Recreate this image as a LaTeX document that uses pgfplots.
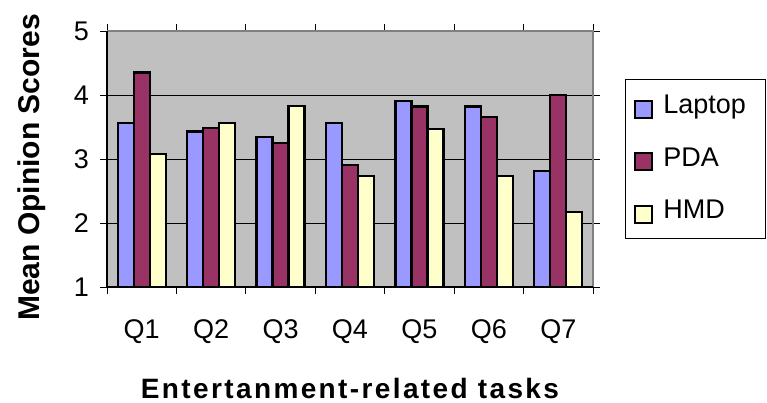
\documentclass[border=0pt]{standalone}
\usepackage{pgfplots}
\pgfplotsset{compat=1.18}
\usepackage{fontspec}
\setmainfont{Liberation Sans}
\newfontfamily\spacedbold[LetterSpace=8.5]{Liberation Sans Bold}

\definecolor{laptopc}{HTML}{9999FF}
\definecolor{pdac}{HTML}{993366}
\definecolor{hmdc}{HTML}{FFFFCC}
\definecolor{plotbg}{HTML}{C0C0C0}
\definecolor{framegray}{HTML}{808080}

\begin{document}
\begin{tikzpicture}[x=1pt,y=1pt]
\begin{axis}[
  scale only axis, width=486pt, height=256pt,
  ybar=0pt, bar width=16pt,
  xmin=-0.5, xmax=6.5, ymin=1, ymax=5,
  xtick={0,...,6},
  xticklabels={Q1,Q2,Q3,Q4,Q5,Q6,Q7},
  major x tick style={draw=none},
  minor xtick={-0.5,0.5,...,6.5},
  ytick={1,...,5},
  tick align=outside,
  major tick length=7pt, minor tick length=7pt,
  tick style={black, line width=0.9pt},
  /pgf/number format/assume math mode=true,
  tick label style={font=\fontsize{27}{27}\selectfont},
  yticklabel style={anchor=east, inner sep=0pt, xshift=-11pt},
  xticklabel style={anchor=north, inner sep=0pt, yshift=-25pt},
  axis line style={draw=none},
  axis background/.style={fill=plotbg},
  ymajorgrids, grid style={black, line width=0.8pt},
  xlabel={\spacedbold\fontsize{28}{28}\selectfont Entertanment-related tasks},
  xlabel style={at={([yshift=-111pt]axis description cs:0.5,0)}, anchor=base},
  ylabel={\bfseries\fontsize{30}{30}\selectfont Mean Opinion Scores},
  ylabel style={at={([xshift=-67pt]axis description cs:0,0.467)}, anchor=base},
  legend style={at={(axis description cs:1.0658,0.8125)}, anchor=north west,
    name=legbox, draw=none, inner xsep=9pt, inner ysep=14.5pt,
    font=\fontsize{27}{27}\selectfont, row sep=27.5pt,
    nodes={inner sep=0pt, text height=20pt, text depth=5pt}},
  legend cell align=left,
  legend image code/.code={%
    \draw[#1, line width=2pt] (1pt,-11.5pt) rectangle (18pt,5.5pt);
    \path (28pt,0pt);},
  every axis plot/.append style={draw=black, line width=2.2pt},
]
\addplot[fill=laptopc] coordinates
  {(0,3.56) (1,3.43) (2,3.34) (3,3.56) (4,3.91) (5,3.82) (6,2.81)};
\addplot[fill=pdac] coordinates
  {(0,4.35) (1,3.48) (2,3.25) (3,2.91) (4,3.82) (5,3.65) (6,4.00)};
\addplot[fill=hmdc] coordinates
  {(0,3.08) (1,3.56) (2,3.83) (3,2.73) (4,3.47) (5,2.74) (6,2.17)};
\legend{Laptop,PDA,HMD}
\coordinate (ll) at (rel axis cs:0,0);
\coordinate (ul) at (rel axis cs:0,1);
\coordinate (ur) at (rel axis cs:1,1);
\coordinate (lr) at (rel axis cs:1,0);
\end{axis}
% plot frame: grey on top and right, black axis lines on left and bottom
\draw[framegray, line width=1.3pt] (ul) -- (ur) -- (lr);
\draw[black, line width=1.2pt] (ul) -- (ll) -- (lr);
% legend frame, with extra room right of the entries
\draw[black, line width=0.8pt] (legbox.north west) rectangle ([xshift=10pt]legbox.south east);
% page area around the plot
\pgfresetboundingbox
\path[use as bounding box] ([shift={(-107pt,-116pt)}]ll) rectangle ([shift={(660pt,287pt)}]ll);
\end{tikzpicture}
\end{document}
